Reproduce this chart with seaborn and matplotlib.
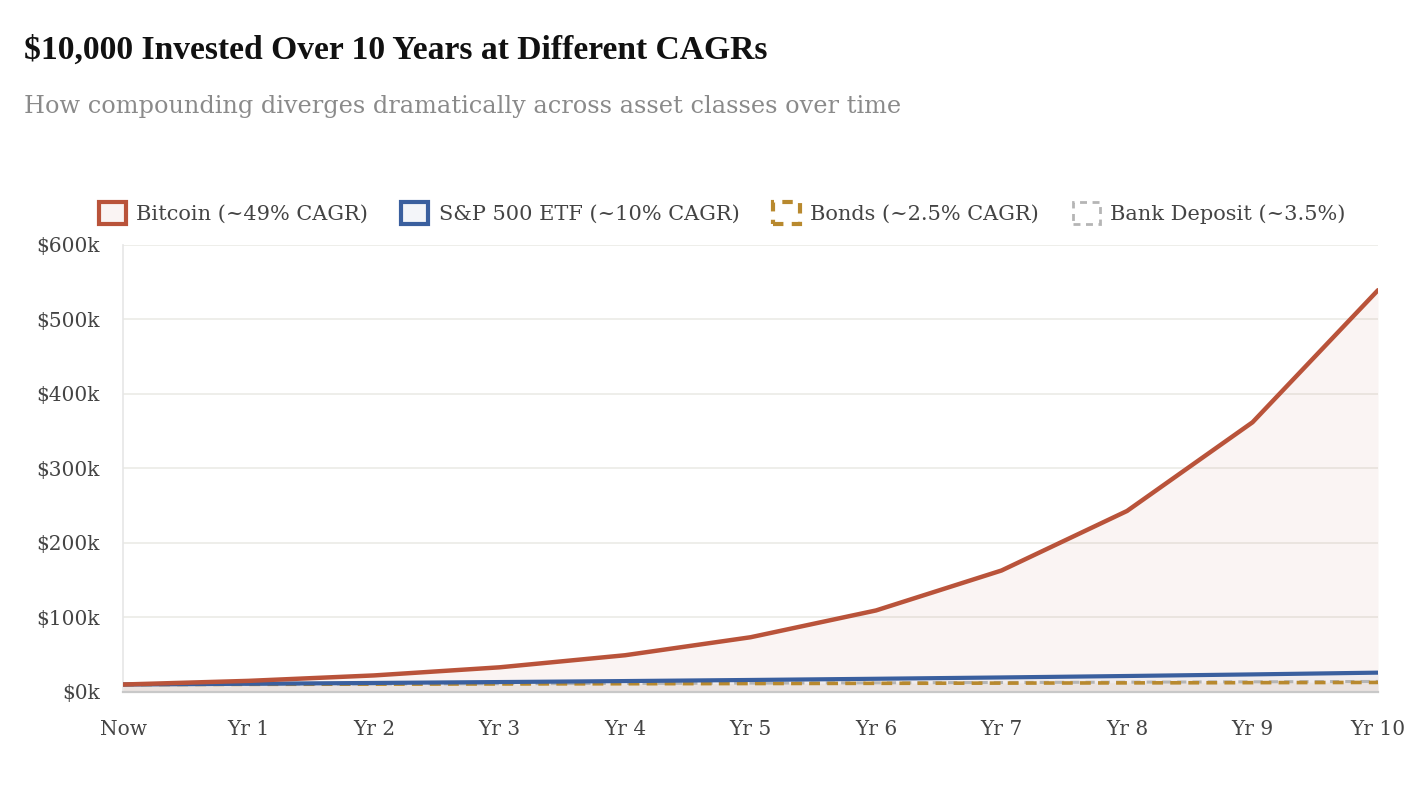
import matplotlib
matplotlib.use("Agg")
import matplotlib.pyplot as plt
import seaborn as sns
import pandas as pd
from matplotlib.patches import Patch
from matplotlib.ticker import FuncFormatter

# ---- data ----
periods = ["Now", "Yr 1", "Yr 2", "Yr 3", "Yr 4", "Yr 5", "Yr 6", "Yr 7", "Yr 8", "Yr 9", "Yr 10"]
bitcoin = [10000, 14900, 22200, 33080, 49290, 73440, 109430, 163040, 242930, 361970, 539340]
sp500 = [10000, 11000, 12100, 13310, 14640, 16110, 17720, 19490, 21440, 23580, 25940]
bonds = [10000, 10250, 10510, 10770, 11040, 11310, 11600, 11890, 12180, 12490, 12800]
bank = [10000, 10350, 10710, 11090, 11480, 11880, 12290, 12720, 13170, 13630, 14110]
series_names = ["Bitcoin (~49% CAGR)", "S&P 500 ETF (~10% CAGR)", "Bonds (~2.5% CAGR)", "Bank Deposit (~3.5%)"]
y_ticks = [0, 100000, 200000, 300000, 400000, 500000, 600000]

colors = ["#b9533a", "#3a5f9e", "#b8892e", "#b5b5b5"]
fills = ["#b9533a", "#3a5f9e", "#b8892e", "#b5b5b5"]
fill_alpha = [0.06, 0.05, 0.05, 0.05]
styles = ["-", "-", (0, (3, 2)), (0, (3, 2))]
widths = [3.2, 3.0, 2.6, 2.2]

sns.set_theme(style="white")
plt.rcParams["font.family"] = ["DejaVu Serif", "Liberation Serif"]

fig = plt.figure(figsize=(14.24, 7.91), dpi=100)
ax = fig.add_axes([0.0864, 0.1252, 0.9677 - 0.0864, 0.6903 - 0.1252])

x = list(range(len(periods)))
all_series = [bitcoin, sp500, bonds, bank]
for i, vals in enumerate(all_series):
    ax.fill_between(x, 0, vals, color=fills[i], alpha=fill_alpha[i], linewidth=0, zorder=1)
for i in [3, 2, 1, 0]:
    df = pd.DataFrame({"x": x, "y": all_series[i]})
    sns.lineplot(data=df, x="x", y="y", ax=ax, color=colors[i], linewidth=widths[i],
                 linestyle=styles[i], zorder=3 + (3 - i), legend=False)

ax.set_xlim(0, 10)
ax.set_ylim(0, 600000)
ax.set_xticks(x)
ax.set_xticklabels(periods)
ax.set_yticks(y_ticks)
ax.yaxis.set_major_formatter(FuncFormatter(lambda v, p: f"${int(v/1000)}k"))
ax.set_xlabel("")
ax.set_ylabel("")

ax.grid(axis="y", color="#ebebe6", linewidth=1.2)
ax.grid(axis="x", visible=False)
for s in ["top", "right"]:
    ax.spines[s].set_visible(False)
ax.spines["left"].set_color("#e6e6e6")
ax.spines["left"].set_linewidth(1.2)
ax.spines["bottom"].set_color("#c8c8c8")
ax.spines["bottom"].set_linewidth(1.6)
ax.tick_params(axis="y", length=11, color="#ebebe6", width=1.2, pad=5.5, labelsize=14.5, labelcolor="#444444")
ax.tick_params(axis="x", length=0, pad=20, labelsize=14.5, labelcolor="#444444")

fig.text(24 / 1424, 1 - 50 / 791, "$10,000 Invested Over 10 Years at Different CAGRs",
         fontsize=24.2, fontweight="bold", color="#111111", va="center", ha="left",
         family=["Liberation Serif", "DejaVu Serif"])
fig.text(24 / 1424, 1 - 106 / 791, "How compounding diverges dramatically across asset classes over time",
         fontsize=17.3, color="#8a8a8a", va="center", ha="left")

handles = []
for i in range(4):
    handles.append(Patch(facecolor=(1, 1, 1, 0) if i >= 2 else matplotlib.colors.to_rgba(fills[i], 0.06),
                         edgecolor=colors[i], linewidth=3 if i < 3 else 2,
                         linestyle="-" if i < 2 else (0, (2.5, 2))))
leg = fig.legend(handles=handles, labels=series_names, loc="center", bbox_to_anchor=(722 / 1424, 1 - 213 / 791),
                 ncol=4, frameon=False, fontsize=15, handlelength=1.3, handleheight=1.25,
                 handletextpad=0.5, columnspacing=1.6, labelcolor="#444444")

fig.savefig("out.png", dpi=100)
